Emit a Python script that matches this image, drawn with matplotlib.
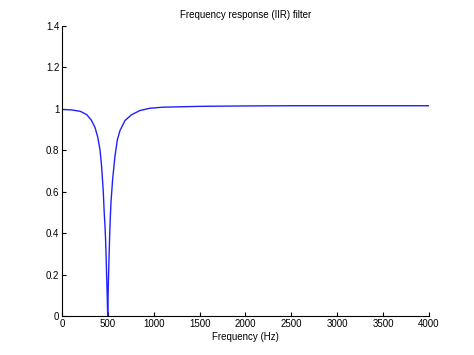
import numpy as np
import matplotlib
matplotlib.use("Agg")
import matplotlib.pyplot as plt

# magnitude response (notch at 500 Hz)
freq = [0, 100, 200, 270, 320, 360, 390, 415, 432, 450, 460, 468, 475, 482,
        488, 494, 498, 505, 512, 519, 526, 534, 552, 577, 603, 632, 686,
        759, 850, 960, 1100, 1500, 2000, 2500, 3000, 3500, 4000]
mag = [0.997, 0.995, 0.988, 0.972, 0.945, 0.910, 0.863, 0.800, 0.720, 0.600,
       0.500, 0.440, 0.370, 0.270, 0.170, 0.080, 0.0, 0.150, 0.270, 0.380,
       0.470, 0.550, 0.660, 0.770, 0.850, 0.895, 0.943, 0.972, 0.992,
       1.003, 1.008, 1.012, 1.014, 1.015, 1.015, 1.015, 1.015]

plt.rcParams["font.family"] = ["Liberation Sans", "DejaVu Sans"]
fig = plt.figure(figsize=(4.74, 3.55), dpi=100)
ax = fig.add_axes([0.1308, 0.1099, 0.7742, 0.8169])

ax.plot(freq, mag, color="#2020ff", lw=1.0)

ax.set_xlim(0, 4000)
ax.set_ylim(0, 1.4)
ax.set_xticks(np.arange(0, 4001, 500))
ax.set_yticks([0, 0.2, 0.4, 0.6, 0.8, 1, 1.2, 1.4])
ax.set_yticklabels(["0", "0.2", "0.4", "0.6", "0.8", "1", "1.2", "1.4"])
ax.tick_params(direction="in", length=3, width=0.8, labelsize=7, pad=2)
ax.spines["top"].set_visible(False)
ax.spines["right"].set_visible(False)
for s in ["left", "bottom"]:
    ax.spines[s].set_linewidth(0.8)

ax.set_title("Frequency response (IIR) filter", fontsize=7, pad=6)
ax.set_xlabel("Frequency (Hz)", fontsize=7, labelpad=2)

fig.savefig("out.png", dpi=100)
